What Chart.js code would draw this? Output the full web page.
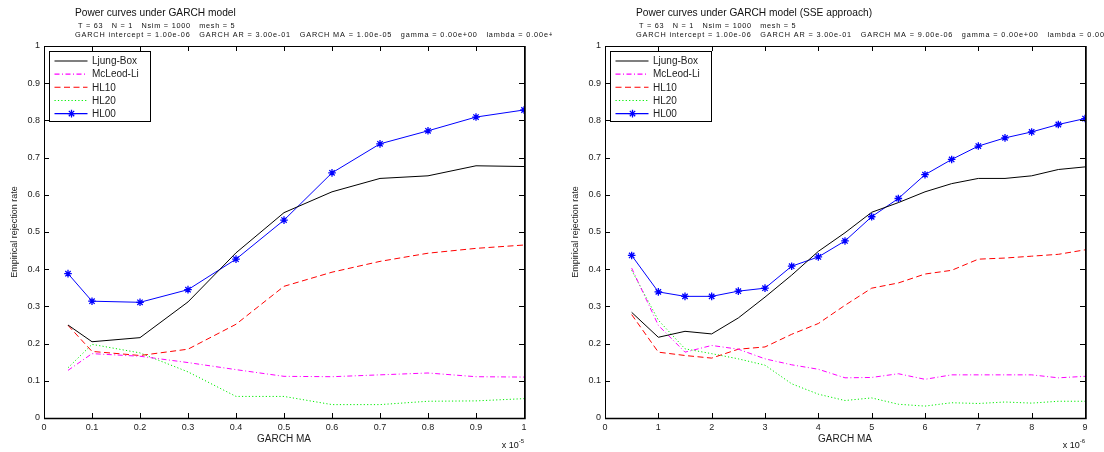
<!DOCTYPE html>
<html><head><meta charset="utf-8">
<script src="https://cdn.jsdelivr.net/npm/chart.js@4/dist/chart.umd.min.js"></script>
<style>
html,body{margin:0;padding:0;background:#fff;width:1104px;height:452px;overflow:hidden;}
#w1{position:absolute;left:0;top:0;width:552px;height:452px;overflow:hidden;}
#w2{position:absolute;left:561px;top:0;width:543px;height:452px;overflow:hidden;}
canvas{display:block;}
</style></head><body>
<div id="w1"><canvas id="c1" width="552" height="452"></canvas></div>
<div id="w2"><canvas id="c2" width="543" height="452"></canvas></div>
<script>
// ---------- data ----------
const seriesNames = ['Ljung-Box', 'McLeod-Li', 'HL10', 'HL20', 'HL00'];

// left panel: GARCH MA (x 10^-5)
const leftMA        = [0.05, 0.1, 0.2, 0.3, 0.4, 0.5, 0.6, 0.7, 0.8, 0.9, 1.0];
const leftLjungBox  = [0.250, 0.205, 0.216, 0.312, 0.444, 0.552, 0.608, 0.644, 0.651, 0.678, 0.676];
const leftMcLeodLi  = [0.128, 0.173, 0.166, 0.149, 0.130, 0.112, 0.111, 0.116, 0.121, 0.111, 0.110];
const leftHL10      = [0.249, 0.179, 0.168, 0.185, 0.252, 0.354, 0.392, 0.421, 0.443, 0.456, 0.465];
const leftHL20      = [0.135, 0.198, 0.175, 0.124, 0.058, 0.058, 0.036, 0.036, 0.045, 0.046, 0.052];
const leftHL00      = [0.388, 0.314, 0.311, 0.345, 0.427, 0.532, 0.659, 0.737, 0.772, 0.809, 0.828];
const leftXTicks    = [0, 0.1, 0.2, 0.3, 0.4, 0.5, 0.6, 0.7, 0.8, 0.9, 1];

// right panel: GARCH MA (x 10^-6)
const rightMA       = [0.5, 1, 1.5, 2, 2.5, 3, 3.5, 4, 4.5, 5, 5.5, 6, 6.5, 7, 7.5, 8, 8.5, 9];
const rightLjungBox = [0.284, 0.217, 0.233, 0.226, 0.269, 0.325, 0.384, 0.448, 0.498, 0.553, 0.579, 0.608, 0.630, 0.644, 0.644, 0.651, 0.668, 0.675];
const rightMcLeodLi = [0.403, 0.249, 0.177, 0.195, 0.185, 0.159, 0.143, 0.131, 0.108, 0.109, 0.119, 0.104, 0.116, 0.116, 0.116, 0.116, 0.108, 0.112];
const rightHL10     = [0.278, 0.177, 0.168, 0.161, 0.185, 0.191, 0.225, 0.254, 0.303, 0.349, 0.363, 0.387, 0.397, 0.427, 0.430, 0.435, 0.440, 0.452];
const rightHL20     = [0.397, 0.263, 0.186, 0.173, 0.159, 0.142, 0.092, 0.064, 0.047, 0.054, 0.037, 0.032, 0.041, 0.039, 0.043, 0.040, 0.045, 0.045];
const rightHL00     = [0.437, 0.339, 0.327, 0.327, 0.341, 0.349, 0.408, 0.433, 0.476, 0.541, 0.590, 0.654, 0.695, 0.731, 0.753, 0.769, 0.789, 0.805];
const rightXTicks   = [0, 1, 2, 3, 4, 5, 6, 7, 8, 9];

const yTicks = [0, 0.1, 0.2, 0.3, 0.4, 0.5, 0.6, 0.7, 0.8, 0.9, 1];

const leftTitle  = ['Power curves under GARCH model',
  'T = 63   N = 1   Nsim = 1000   mesh = 5',
  'GARCH intercept = 1.00e-06   GARCH AR = 3.00e-01   GARCH MA = 1.00e-05   gamma = 0.00e+00   lambda = 0.00e+00'];
const rightTitle = ['Power curves under GARCH model (SSE approach)',
  'T = 63   N = 1   Nsim = 1000   mesh = 5',
  'GARCH intercept = 1.00e-06   GARCH AR = 3.00e-01   GARCH MA = 9.00e-06   gamma = 0.00e+00   lambda = 0.00e+00'];

// ---------- styles ----------
const styles = [
  {color: '#000000', dash: [], point: false},
  {color: '#ff00ff', dash: [5, 2.5, 1, 2.5], point: false},
  {color: '#ff0000', dash: [6, 3.5], point: false},
  {color: '#00ee00', dash: [1.2, 2.2], point: false},
  {color: '#0000ff', dash: [], point: true}
];
const FONT = '"Liberation Sans", Arial, Helvetica, sans-serif';

function makeDatasets(xs, series) {
  return series.map((ys, i) => ({
    label: seriesNames[i],
    data: xs.map((x, j) => ({x: x, y: ys[j]})),
    borderColor: styles[i].color,
    backgroundColor: styles[i].color,
    borderWidth: 1,
    borderDash: styles[i].dash,
    pointStyle: styles[i].point ? 'star' : false,
    pointRadius: styles[i].point ? 3.8 : 0,
    pointBorderWidth: 1.3,
    pointBorderColor: styles[i].color,
    tension: 0
  }));
}

const matlabPlugin = {
  id: 'matlab',
  afterDatasetsDraw(chart, args, opts) {
    const ctx = chart.ctx;
    const a = chart.chartArea;
    const xs = chart.scales.x, ys = chart.scales.y;
    ctx.save();
    // box
    ctx.strokeStyle = '#000';
    ctx.lineWidth = 1;
    ctx.setLineDash([]);
    ctx.strokeRect(Math.round(a.left) + 0.5, Math.round(a.top) + 0.5, Math.round(a.right - a.left), Math.round(a.bottom - a.top));
    ctx.lineWidth = 1.5;
    ctx.beginPath();
    ctx.moveTo(Math.round(a.left), Math.round(a.bottom) + 0.5);
    ctx.lineTo(Math.round(a.right) + 1, Math.round(a.bottom) + 0.5);
    ctx.lineTo(Math.round(a.right) + 1, Math.round(a.top));
    ctx.stroke();
    // inward ticks
    ctx.lineWidth = 1;
    const tl = 5;
    ctx.beginPath();
    xs.ticks.forEach(t => {
      const px = Math.round(xs.getPixelForValue(t.value)) + 0.5;
      ctx.moveTo(px, a.bottom); ctx.lineTo(px, a.bottom - tl);
      ctx.moveTo(px, a.top); ctx.lineTo(px, a.top + tl);
    });
    ys.ticks.forEach(t => {
      const py = Math.round(ys.getPixelForValue(t.value)) + 0.5;
      ctx.moveTo(a.left, py); ctx.lineTo(a.left + tl, py);
      ctx.moveTo(a.right, py); ctx.lineTo(a.right - tl, py);
    });
    ctx.stroke();

    // legend
    const lx = Math.round(a.left) + 5.5, ly = Math.round(a.top) + 5.5, lw = 101, lh = 70;
    ctx.fillStyle = '#fff';
    ctx.fillRect(lx, ly, lw, lh);
    ctx.strokeStyle = '#000';
    ctx.lineWidth = 1;
    ctx.strokeRect(lx, ly, lw, lh);
    ctx.font = '10px ' + FONT;
    ctx.textBaseline = 'middle';
    ctx.textAlign = 'left';
    chart.data.datasets.forEach((ds, i) => {
      const st = styles[i];
      const yy = ly + 9.5 + i * 13.15;
      ctx.save();
      ctx.strokeStyle = st.color;
      ctx.setLineDash(st.dash);
      ctx.lineWidth = 1.1;
      ctx.beginPath();
      ctx.moveTo(lx + 5, yy); ctx.lineTo(lx + 38, yy);
      ctx.stroke();
      ctx.restore();
      if (st.point) {
        ctx.save();
        ctx.strokeStyle = st.color;
        ctx.fillStyle = st.color;
        ctx.lineWidth = 1.3;
        Chart.helpers.drawPoint(ctx, {pointStyle: 'star', radius: 3.8, borderWidth: 1.3, rotation: 0}, lx + 22, yy);
        ctx.restore();
      }
      ctx.fillStyle = '#222';
      ctx.fillText(ds.label, lx + 42.5, yy + 0.5);
    });

    // titles
    const tx = a.left + 31;
    ctx.fillStyle = '#111';
    ctx.textBaseline = 'alphabetic';
    ctx.textAlign = 'left';
    ctx.font = '10.2px ' + FONT;
    ctx.fillText(opts.title[0], tx, 16);
    ctx.font = '7.3px ' + FONT;
    ctx.letterSpacing = '0.75px';
    ctx.fillText(opts.title[1], tx + 3, 27.5);
    ctx.letterSpacing = '0.85px';
    ctx.fillText(opts.title[2], tx, 37);
    ctx.letterSpacing = '0px';

    // exponent label
    ctx.textAlign = 'right';
    ctx.font = '6px ' + FONT;
    ctx.fillText(opts.exp, a.right, 443);
    const ew = ctx.measureText(opts.exp).width;
    ctx.font = '9px ' + FONT;
    ctx.fillText('x 10', a.right - ew, 448);
    ctx.restore();
  }
};

function makeChart(id, xs, series, xTicks, xMax, title, exp, width) {
  return new Chart(document.getElementById(id), {
    type: 'line',
    data: {datasets: makeDatasets(xs, series)},
    options: {
      responsive: false,
      animation: false,
      devicePixelRatio: 1,
      layout: {padding: {top: 46, left: 0, right: width - 524, bottom: 0}},
      plugins: {legend: {display: false}, tooltip: {enabled: false}, matlab: {title: title, exp: exp}},
      scales: {
        x: {
          type: 'linear', min: 0, max: xMax,
          afterBuildTicks: s => { s.ticks = xTicks.map(v => ({value: v})); },
          afterFit: s => { s.height = 34; },
          ticks: {font: {family: FONT, size: 9}, color: '#222', padding: 4, maxRotation: 0, autoSkip: false,
                  callback: v => String(+v.toFixed(2))},
          grid: {display: false, drawTicks: false},
          border: {display: false},
          title: {display: true, text: 'GARCH MA', font: {family: FONT, size: 10}, color: '#222', padding: {top: 0, bottom: 7}}
        },
        y: {
          min: 0, max: 1,
          afterBuildTicks: s => { s.ticks = yTicks.map(v => ({value: v})); },
          afterFit: s => { s.width = 44; },
          ticks: {font: {family: FONT, size: 9}, color: '#222', padding: 4, autoSkip: false,
                  callback: v => String(+v.toFixed(2))},
          grid: {display: false, drawTicks: false},
          border: {display: false},
          title: {display: true, text: 'Empirical rejection rate', font: {family: FONT, size: 9}, color: '#222', padding: {top: 9, bottom: 0}}
        }
      }
    },
    plugins: [matlabPlugin]
  });
}

makeChart('c1', leftMA, [leftLjungBox, leftMcLeodLi, leftHL10, leftHL20, leftHL00], leftXTicks, 1, leftTitle, '-5', 552);
makeChart('c2', rightMA, [rightLjungBox, rightMcLeodLi, rightHL10, rightHL20, rightHL00], rightXTicks, 9, rightTitle, '-6', 543);
</script>
</body></html>
